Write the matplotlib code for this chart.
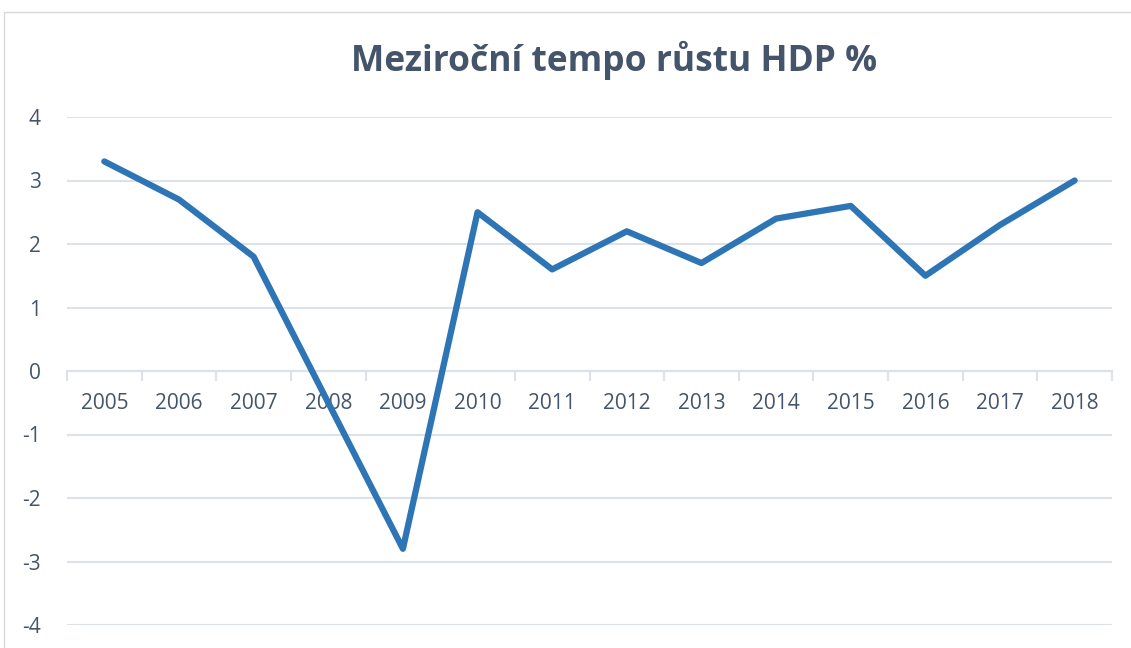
import matplotlib
matplotlib.use("Agg")
import matplotlib.pyplot as plt
from matplotlib.patches import Rectangle
from matplotlib.ticker import FixedLocator

years = ["2005", "2006", "2007", "2008", "2009", "2010", "2011", "2012",
         "2013", "2014", "2015", "2016", "2017", "2018"]
growth = [3.3, 2.7, 1.8, -0.5, -2.8, 2.5, 1.6, 2.2, 1.7, 2.4, 2.6, 1.5, 2.3, 3.0]
yticks = [-4, -3, -2, -1, 0, 1, 2, 3, 4]
title = "Meziroční tempo růstu HDP %"

plt.rcParams['font.family'] = ['Open Sans', 'DejaVu Sans']

fig = plt.figure(figsize=(11.31, 6.48), dpi=100)
fig.patch.set_facecolor('white')
fig.patches.append(Rectangle((4 / 1131, -0.05), 1.1, 1 - 12 / 648 + 0.05,
                             transform=fig.transFigure, fill=False,
                             edgecolor='#D9D9D9', linewidth=1.0))

ax = fig.add_axes([67 / 1131, 23 / 648, (1112 - 67) / 1131, (625 - 117) / 648])
x = list(range(len(years)))
ax.set_xlim(-0.5, len(years) - 0.5)
ax.set_ylim(-4, 4)

ax.set_yticks(yticks)
ax.set_yticklabels([str(v) for v in yticks])
ax.yaxis.grid(True, color='#DDE1E8', linewidth=1.5)
ax.set_axisbelow(True)

for s in ['top', 'right', 'left']:
    ax.spines[s].set_visible(False)
ax.spines['bottom'].set_position(('data', 0))
ax.spines['bottom'].set_color('#DDE1E8')
ax.spines['bottom'].set_linewidth(1.5)

ax.set_xticks(x)
ax.set_xticklabels(years)
ax.xaxis.set_minor_locator(FixedLocator([i - 0.5 for i in range(len(years) + 1)]))
ax.tick_params(axis='x', which='major', length=0, pad=16, labelsize=15,
               labelcolor='#44546A')
ax.tick_params(axis='x', which='minor', length=7, width=1.5, color='#DDE1E8',
               direction='out')
ax.tick_params(axis='y', length=0, pad=19, labelsize=15, labelcolor='#44546A')

ax.plot(x, growth, color='#2E75B6', linewidth=4.5, solid_capstyle='round',
        solid_joinstyle='round', zorder=3, clip_on=False)

fig.text(614 / 1131, 1 - 60 / 648, title, ha='center', va='center',
         fontsize=25.5, fontweight='bold', color='#44546A')

fig.savefig("out.png", dpi=100)
